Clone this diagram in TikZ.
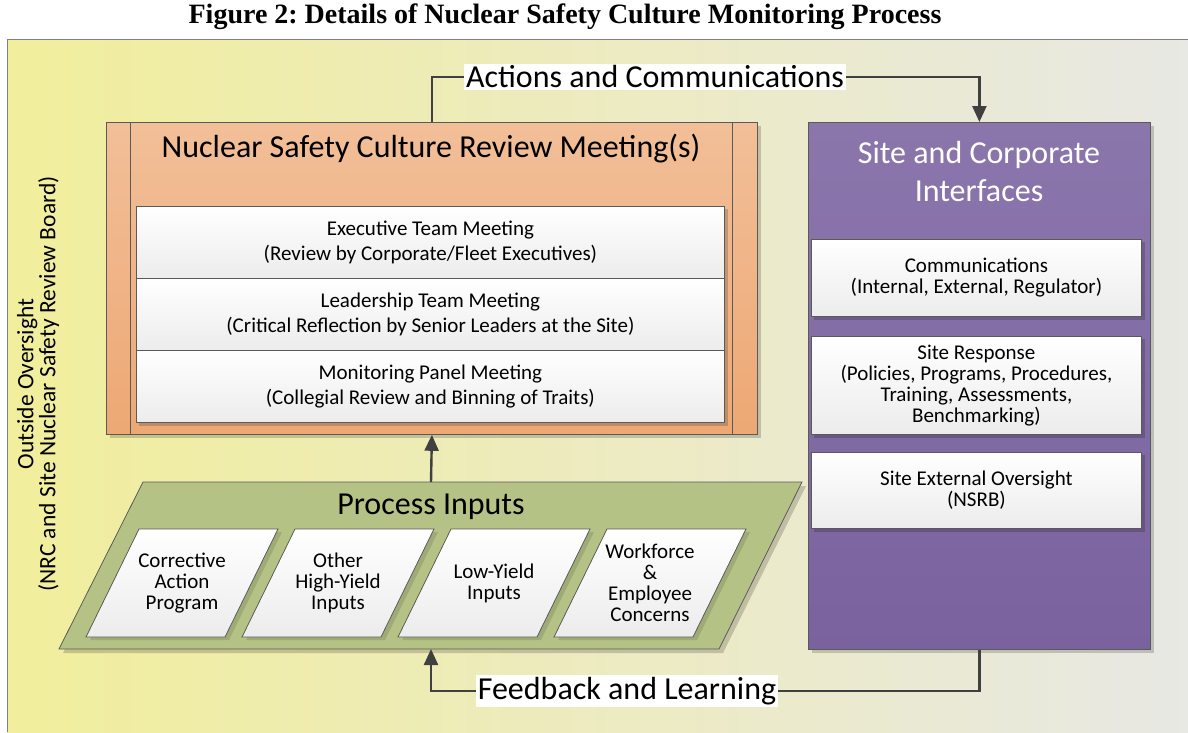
\documentclass[tikz,border=0pt]{standalone}
\usepackage{fontspec}
\setmainfont{Carlito}
\newfontfamily\titlefont{Liberation Serif}
\usetikzlibrary{arrows.meta,calc}
\frenchspacing
\definecolor{bgL}{RGB}{241,238,156}
\definecolor{bgR}{RGB}{232,232,228}
\definecolor{orT}{RGB}{242,191,152}
\definecolor{orB}{RGB}{237,168,116}
\definecolor{puT}{RGB}{139,118,172}
\definecolor{puB}{RGB}{121,98,158}
\definecolor{grn}{RGB}{180,195,133}
\definecolor{edge}{RGB}{90,90,90}
\definecolor{conn}{RGB}{64,64,64}
\definecolor{wB}{RGB}{236,236,236}
\begin{document}
\begin{tikzpicture}[x=1pt,y=-1pt,
  bigbox/.style={draw=edge, line width=0.8pt, inner sep=0pt, anchor=north west},
  wbox/.style={draw=edge, line width=0.8pt, top color=white, bottom color=wB, inner sep=0pt, anchor=north west, align=center, font=\fontsize{21}{25}\selectfont},
  sbox/.style={draw=edge, line width=0.8pt, top color=white, bottom color=wB, inner sep=0pt, anchor=north west, align=center, font=\fontsize{21}{21}\selectfont},
  shadow/.style={fill=black, opacity=0.18},
  wire/.style={draw=conn, line width=2.4pt},
  arrowwire/.style={wire, -{Triangle[length=16pt,width=14pt]}},
  label/.style={fill=white, inner sep=2pt, font=\fontsize{32}{36}\selectfont},
  ptext/.style={align=center, font=\fontsize{21}{21}\selectfont}
]
\useasboundingbox (0,0) rectangle (1188,732);
\fill[white] (0,0) rectangle (1188,732);
\node[font=\titlefont\bfseries\fontsize{28}{32}\selectfont] (title) at (565,17) {Figure 2: Details of Nuclear Safety Culture Monitoring Process};
% background
\shade[left color=bgL, right color=bgR] (7,39) rectangle (1188,732);
\draw[gray, line width=1pt] (7,732) -- (7,39) -- (1188,39);
\node[rotate=90, align=center, font=\fontsize{23.5}{22}\selectfont] (oversight) at (38,384) {Outside Oversight\\(NRC and Site Nuclear Safety Review Board)};
% orange box
\fill[shadow] (110,126) rectangle (761,438);
\node[bigbox, top color=orT, bottom color=orB, minimum width=651pt, minimum height=312pt] (orange) at (106,122) {};
\draw[edge, line width=0.8pt] (130,122) -- (130,434) (732,122) -- (732,434);
\node[font=\fontsize{32}{36}\selectfont] (otitle) at (431,149) {Nuclear Safety Culture Review Meeting(s)};
\fill[shadow] (139,209) rectangle (728,426);
\node[wbox, minimum width=588pt, minimum height=72pt] (exec) at (136,206) {Executive Team Meeting\\(Review by Corporate/Fleet Executives)};
\node[wbox, minimum width=588pt, minimum height=72pt] (lead) at (136,278) {Leadership Team Meeting\\(Critical Reflection by Senior Leaders at the Site)};
\node[wbox, minimum width=588pt, minimum height=72pt] (panel) at (136,350) {Monitoring Panel Meeting\\(Collegial Review and Binning of Traits)};
% purple box
\fill[shadow] (812,126) rectangle (1154,653);
\node[bigbox, top color=puT, bottom color=puB, minimum width=342pt, minimum height=527pt] (purple) at (808,122) {};
\node[align=center, text=white, font=\fontsize{32}{38}\selectfont] (ptitle) at (979,172) {Site and Corporate\\Interfaces};
\fill[shadow] (814,242) rectangle (1145,320);
\node[sbox, minimum width=330pt, minimum height=77pt] (comm) at (811,239) {Communications\\(Internal, External, Regulator)};
\fill[shadow] (814,339) rectangle (1145,438);
\node[sbox, minimum width=330pt, minimum height=98pt] (resp) at (811,336) {Site Response\\(Policies, Programs, Procedures,\\Training, Assessments,\\Benchmarking)};
\fill[shadow] (814,455) rectangle (1145,532);
\node[sbox, minimum width=330pt, minimum height=76pt] (nsrb) at (811,452) {Site External Oversight\\(NSRB)};
% process inputs
\fill[shadow] (63,653) -- (147,486) -- (806,486) -- (723,653) -- cycle;
\draw[edge, line width=0.8pt, fill=grn] (59,649) -- (143,482) -- (802,482) -- (719,649) -- cycle;
\coordinate (pintop) at (431,482);
\coordinate (pinbot) at (431,649);
\node[font=\fontsize{32}{36}\selectfont] (ptitle2) at (431,507) {Process Inputs};
\foreach \i/\nm/\txt in {0/cap/{Corrective\\Action\\Program}, 1/hy/{Other\\High-Yield\\Inputs}, 2/ly/{Low-Yield\\Inputs}, 3/wf/{Workforce\\\&\\Employee\\Concerns}}{
  \pgfmathsetmacro{\xl}{139+156*\i}
  \fill[black, opacity=0.12] (\xl+4,532) -- (\xl+143,532) -- (\xl+90,640) -- (\xl-49,640) -- cycle;
  \draw[edge, line width=0.8pt, top color=white, bottom color=wB] (\xl,529) -- (\xl+139,529) -- (\xl+86,637) -- (\xl-53,637) -- cycle;
  \node[ptext] (\nm) at (\xl+43,583) {\txt};
}
% connectors
\node[label] (actions) at (655,77) {Actions and Communications};
\node[label] (feedback) at (627,691) {Feedback and Learning};
\draw[wire] (orange.north) |- (actions.west);
\draw[arrowwire] (actions.east) -| (purple.north);
\draw[arrowwire] (pintop) -- (orange.south);
\draw[wire] (purple.south) |- (feedback.east);
\draw[arrowwire] (feedback.west) -| (pinbot);
\end{tikzpicture}
\end{document}
